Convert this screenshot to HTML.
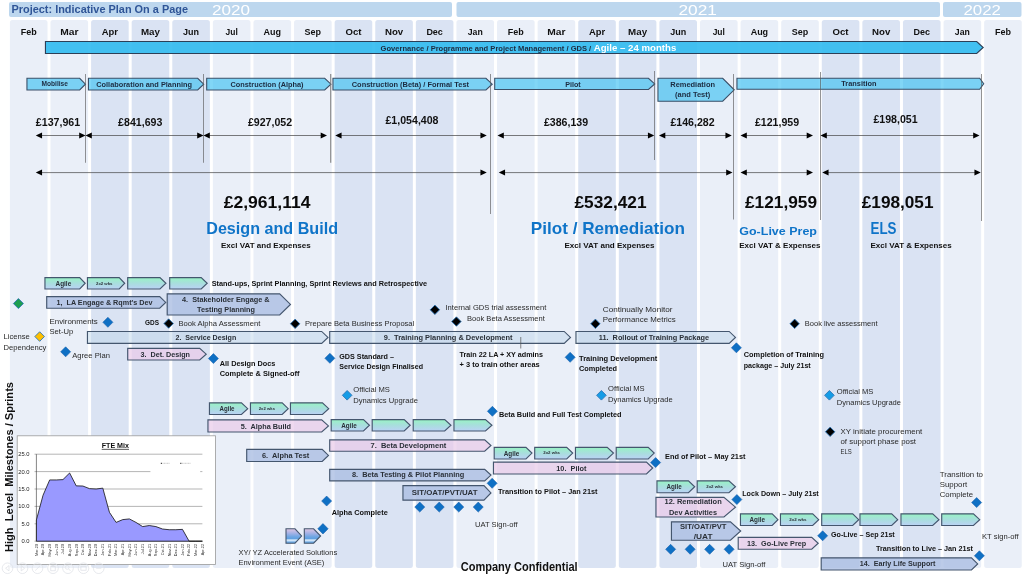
<!DOCTYPE html>
<html lang="en"><head><meta charset="utf-8"><title>Project: Indicative Plan On a Page</title>
<style>
html,body{margin:0;padding:0;background:#fff;}
body{width:1024px;height:576px;overflow:hidden;}
svg{display:block;font-family:"Liberation Sans", sans-serif;}
text{white-space:pre;}
</style></head>
<body>
<svg width="1024" height="576" viewBox="0 0 1024 576">
<defs><linearGradient id="gAse" x1="0" y1="0" x2="0" y2="1"><stop offset="0" stop-color="#dec6e2"/><stop offset="0.3" stop-color="#a6b2e6"/><stop offset="0.55" stop-color="#6fa6e3"/><stop offset="0.7" stop-color="#5f9fe0"/><stop offset="0.76" stop-color="#cfe4f8"/><stop offset="0.86" stop-color="#cfe4f8"/><stop offset="0.9" stop-color="#6aa8e4"/><stop offset="1" stop-color="#6aa8e4"/></linearGradient></defs>
<defs>
<linearGradient id="gAg" x1="0" y1="0" x2="0" y2="1"><stop offset="0" stop-color="#98f3c4"/><stop offset="0.5" stop-color="#a8dedd"/><stop offset="1" stop-color="#bbd2f5"/></linearGradient>
</defs>
<rect x="9.90" y="20" width="37.6" height="548" rx="2.5" fill="#eaeff8"/>
<rect x="50.49" y="20" width="37.6" height="548" rx="2.5" fill="#eaeff8"/>
<rect x="91.09" y="20" width="37.6" height="548" rx="2.5" fill="#dae3f3"/>
<rect x="131.68" y="20" width="37.6" height="548" rx="2.5" fill="#dae3f3"/>
<rect x="172.28" y="20" width="37.6" height="548" rx="2.5" fill="#dae3f3"/>
<rect x="212.87" y="20" width="37.6" height="548" rx="2.5" fill="#eaeff8"/>
<rect x="253.46" y="20" width="37.6" height="548" rx="2.5" fill="#eaeff8"/>
<rect x="294.06" y="20" width="37.6" height="548" rx="2.5" fill="#eaeff8"/>
<rect x="334.65" y="20" width="37.6" height="548" rx="2.5" fill="#dae3f3"/>
<rect x="375.25" y="20" width="37.6" height="548" rx="2.5" fill="#dae3f3"/>
<rect x="415.84" y="20" width="37.6" height="548" rx="2.5" fill="#dae3f3"/>
<rect x="456.43" y="20" width="37.6" height="548" rx="2.5" fill="#eaeff8"/>
<rect x="497.03" y="20" width="37.6" height="548" rx="2.5" fill="#eaeff8"/>
<rect x="537.62" y="20" width="37.6" height="548" rx="2.5" fill="#eaeff8"/>
<rect x="578.22" y="20" width="37.6" height="548" rx="2.5" fill="#dae3f3"/>
<rect x="618.81" y="20" width="37.6" height="548" rx="2.5" fill="#dae3f3"/>
<rect x="659.40" y="20" width="37.6" height="548" rx="2.5" fill="#dae3f3"/>
<rect x="700.00" y="20" width="37.6" height="548" rx="2.5" fill="#eaeff8"/>
<rect x="740.59" y="20" width="37.6" height="548" rx="2.5" fill="#eaeff8"/>
<rect x="781.19" y="20" width="37.6" height="548" rx="2.5" fill="#eaeff8"/>
<rect x="821.78" y="20" width="37.6" height="548" rx="2.5" fill="#dae3f3"/>
<rect x="862.37" y="20" width="37.6" height="548" rx="2.5" fill="#dae3f3"/>
<rect x="902.97" y="20" width="37.6" height="548" rx="2.5" fill="#dae3f3"/>
<rect x="943.56" y="20" width="37.6" height="548" rx="2.5" fill="#eaeff8"/>
<rect x="984.16" y="20" width="37.6" height="548" rx="2.5" fill="#eaeff8"/>
<rect x="9" y="2" width="443" height="15" rx="2" fill="#bdd7ee"/>
<rect x="456.5" y="2" width="483.5" height="15" rx="2" fill="#bdd7ee"/>
<rect x="943" y="2" width="78.5" height="15" rx="2" fill="#bdd7ee"/>
<text x="11.50" y="13.00" font-size="10.6" font-weight="bold" fill="#2f5597" textLength="176.50" lengthAdjust="spacingAndGlyphs">Project: Indicative Plan On a Page</text>
<text x="212.00" y="15.00" font-size="14.8" fill="#ffffff" textLength="38.00" lengthAdjust="spacingAndGlyphs">2020</text>
<text x="678.50" y="15.00" font-size="14.8" fill="#ffffff" textLength="38.50" lengthAdjust="spacingAndGlyphs">2021</text>
<text x="963.50" y="15.00" font-size="14.8" fill="#ffffff" textLength="37.50" lengthAdjust="spacingAndGlyphs">2022</text>
<text x="20.70" y="35.00" font-size="9.8" font-weight="bold" fill="#111" textLength="16.00" lengthAdjust="spacingAndGlyphs">Feb</text>
<text x="60.17" y="35.00" font-size="9.8" font-weight="bold" fill="#111" textLength="18.25" lengthAdjust="spacingAndGlyphs">Mar</text>
<text x="101.76" y="35.00" font-size="9.8" font-weight="bold" fill="#111" textLength="16.25" lengthAdjust="spacingAndGlyphs">Apr</text>
<text x="140.98" y="35.00" font-size="9.8" font-weight="bold" fill="#111" textLength="19.00" lengthAdjust="spacingAndGlyphs">May</text>
<text x="183.08" y="35.00" font-size="9.8" font-weight="bold" fill="#111" textLength="16.00" lengthAdjust="spacingAndGlyphs">Jun</text>
<text x="225.55" y="35.00" font-size="9.8" font-weight="bold" fill="#111" textLength="12.25" lengthAdjust="spacingAndGlyphs">Jul</text>
<text x="263.51" y="35.00" font-size="9.8" font-weight="bold" fill="#111" textLength="17.50" lengthAdjust="spacingAndGlyphs">Aug</text>
<text x="304.61" y="35.00" font-size="9.8" font-weight="bold" fill="#111" textLength="16.50" lengthAdjust="spacingAndGlyphs">Sep</text>
<text x="345.45" y="35.00" font-size="9.8" font-weight="bold" fill="#111" textLength="16.00" lengthAdjust="spacingAndGlyphs">Oct</text>
<text x="384.92" y="35.00" font-size="9.8" font-weight="bold" fill="#111" textLength="18.25" lengthAdjust="spacingAndGlyphs">Nov</text>
<text x="426.39" y="35.00" font-size="9.8" font-weight="bold" fill="#111" textLength="16.50" lengthAdjust="spacingAndGlyphs">Dec</text>
<text x="467.73" y="35.00" font-size="9.8" font-weight="bold" fill="#111" textLength="15.00" lengthAdjust="spacingAndGlyphs">Jan</text>
<text x="507.83" y="35.00" font-size="9.8" font-weight="bold" fill="#111" textLength="16.00" lengthAdjust="spacingAndGlyphs">Feb</text>
<text x="547.30" y="35.00" font-size="9.8" font-weight="bold" fill="#111" textLength="18.25" lengthAdjust="spacingAndGlyphs">Mar</text>
<text x="588.89" y="35.00" font-size="9.8" font-weight="bold" fill="#111" textLength="16.25" lengthAdjust="spacingAndGlyphs">Apr</text>
<text x="628.11" y="35.00" font-size="9.8" font-weight="bold" fill="#111" textLength="19.00" lengthAdjust="spacingAndGlyphs">May</text>
<text x="670.20" y="35.00" font-size="9.8" font-weight="bold" fill="#111" textLength="16.00" lengthAdjust="spacingAndGlyphs">Jun</text>
<text x="712.67" y="35.00" font-size="9.8" font-weight="bold" fill="#111" textLength="12.25" lengthAdjust="spacingAndGlyphs">Jul</text>
<text x="750.64" y="35.00" font-size="9.8" font-weight="bold" fill="#111" textLength="17.50" lengthAdjust="spacingAndGlyphs">Aug</text>
<text x="791.74" y="35.00" font-size="9.8" font-weight="bold" fill="#111" textLength="16.50" lengthAdjust="spacingAndGlyphs">Sep</text>
<text x="832.58" y="35.00" font-size="9.8" font-weight="bold" fill="#111" textLength="16.00" lengthAdjust="spacingAndGlyphs">Oct</text>
<text x="872.05" y="35.00" font-size="9.8" font-weight="bold" fill="#111" textLength="18.25" lengthAdjust="spacingAndGlyphs">Nov</text>
<text x="913.52" y="35.00" font-size="9.8" font-weight="bold" fill="#111" textLength="16.50" lengthAdjust="spacingAndGlyphs">Dec</text>
<text x="954.86" y="35.00" font-size="9.8" font-weight="bold" fill="#111" textLength="15.00" lengthAdjust="spacingAndGlyphs">Jan</text>
<text x="994.96" y="35.00" font-size="9.8" font-weight="bold" fill="#111" textLength="16.00" lengthAdjust="spacingAndGlyphs">Feb</text>
<path d="M45.45 41.50H976.70L983.20 47.48L976.70 53.45H45.45Z" fill="rgba(48,186,240,0.9)" stroke="#2c3f57" stroke-width="1.1" stroke-linejoin="miter"/>
<text x="380.60" y="51.00" font-size="6.7" font-weight="bold" fill="#1c2b40" textLength="210.65" lengthAdjust="spacingAndGlyphs">Governance / Programme and Project Management / GDS /</text>
<text x="593.75" y="51.00" font-size="9.8" font-weight="bold" fill="#ffffff" textLength="82.50" lengthAdjust="spacingAndGlyphs">Agile – 24 months</text>
<path d="M26.95 78.30H79.70L85.45 84.15L79.70 90.00H26.95Z" fill="rgba(70,195,242,0.68)" stroke="#3a4f68" stroke-width="1.1" stroke-linejoin="miter"/>
<path d="M88.45 78.30H197.70L203.70 84.15L197.70 90.00H88.45Z" fill="rgba(70,195,242,0.68)" stroke="#3a4f68" stroke-width="1.1" stroke-linejoin="miter"/>
<path d="M206.70 78.30H324.70L330.95 84.15L324.70 90.00H206.70Z" fill="rgba(70,195,242,0.68)" stroke="#3a4f68" stroke-width="1.1" stroke-linejoin="miter"/>
<path d="M332.95 78.30H485.95L492.20 84.15L485.95 90.00H332.95Z" fill="rgba(70,195,242,0.68)" stroke="#3a4f68" stroke-width="1.1" stroke-linejoin="miter"/>
<path d="M494.70 78.30H648.45L654.70 83.90L648.45 89.50H494.70Z" fill="rgba(70,195,242,0.68)" stroke="#3a4f68" stroke-width="1.1" stroke-linejoin="miter"/>
<path d="M657.95 78.30H722.70L734.20 89.78L722.70 101.25H657.95Z" fill="rgba(70,195,242,0.68)" stroke="#3a4f68" stroke-width="1.1" stroke-linejoin="miter"/>
<path d="M736.95 78.30H979.70L983.70 83.78L979.70 89.25H736.95Z" fill="rgba(70,195,242,0.68)" stroke="#3a4f68" stroke-width="1.1" stroke-linejoin="miter"/>
<text x="41.50" y="85.75" font-size="6.7" font-weight="bold" fill="#1c2b40" textLength="26.50" lengthAdjust="spacingAndGlyphs">Mobilise</text>
<text x="96.25" y="86.50" font-size="7.6" font-weight="bold" fill="#1c2b40" textLength="95.75" lengthAdjust="spacingAndGlyphs">Collaboration and Planning</text>
<text x="230.50" y="86.75" font-size="7.6" font-weight="bold" fill="#1c2b40" textLength="73.00" lengthAdjust="spacingAndGlyphs">Construction (Alpha)</text>
<text x="351.75" y="86.75" font-size="7.6" font-weight="bold" fill="#1c2b40" textLength="117.25" lengthAdjust="spacingAndGlyphs">Construction (Beta) / Formal Test</text>
<text x="565.25" y="86.50" font-size="7.6" font-weight="bold" fill="#1c2b40" textLength="15.50" lengthAdjust="spacingAndGlyphs">Pilot</text>
<text x="670.25" y="86.75" font-size="7.6" font-weight="bold" fill="#1c2b40" textLength="44.75" lengthAdjust="spacingAndGlyphs">Remediation</text>
<text x="675.00" y="97.00" font-size="7.6" font-weight="bold" fill="#1c2b40" textLength="35.25" lengthAdjust="spacingAndGlyphs">(and Test)</text>
<text x="841.25" y="86.00" font-size="7.6" font-weight="bold" fill="#1c2b40" textLength="35.25" lengthAdjust="spacingAndGlyphs">Transition</text>
<line x1="85.50" y1="74.00" x2="85.50" y2="162.75" stroke="#5a5a5a" stroke-width="0.65"/>
<line x1="203.50" y1="74.00" x2="203.50" y2="162.75" stroke="#5a5a5a" stroke-width="0.65"/>
<line x1="330.75" y1="74.00" x2="330.75" y2="162.75" stroke="#777" stroke-width="1.0"/>
<line x1="490.50" y1="74.00" x2="490.50" y2="214.00" stroke="#5a5a5a" stroke-width="0.65"/>
<line x1="654.50" y1="71.00" x2="654.50" y2="160.00" stroke="#5a5a5a" stroke-width="0.65"/>
<line x1="733.50" y1="74.00" x2="733.50" y2="219.50" stroke="#5a5a5a" stroke-width="0.65"/>
<line x1="820.50" y1="72.00" x2="820.50" y2="220.00" stroke="#5a5a5a" stroke-width="0.65"/>
<line x1="981.50" y1="74.00" x2="981.50" y2="221.00" stroke="#5a5a5a" stroke-width="0.65"/>
<text x="35.89" y="125.50" font-size="10.6" font-weight="bold" fill="#111" textLength="44.21" lengthAdjust="spacingAndGlyphs">£137,961</text>
<text x="118.14" y="125.50" font-size="10.6" font-weight="bold" fill="#111" textLength="44.21" lengthAdjust="spacingAndGlyphs">£841,693</text>
<text x="247.89" y="125.50" font-size="10.6" font-weight="bold" fill="#111" textLength="44.21" lengthAdjust="spacingAndGlyphs">£927,052</text>
<text x="385.47" y="123.50" font-size="10.6" font-weight="bold" fill="#111" textLength="53.05" lengthAdjust="spacingAndGlyphs">£1,054,408</text>
<text x="543.89" y="125.50" font-size="10.6" font-weight="bold" fill="#111" textLength="44.21" lengthAdjust="spacingAndGlyphs">£386,139</text>
<text x="670.39" y="125.50" font-size="10.6" font-weight="bold" fill="#111" textLength="44.21" lengthAdjust="spacingAndGlyphs">£146,282</text>
<text x="754.89" y="125.50" font-size="10.6" font-weight="bold" fill="#111" textLength="44.21" lengthAdjust="spacingAndGlyphs">£121,959</text>
<text x="873.39" y="122.50" font-size="10.6" font-weight="bold" fill="#111" textLength="44.21" lengthAdjust="spacingAndGlyphs">£198,051</text>
<line x1="41.05" y1="135.50" x2="80.20" y2="135.50" stroke="#444" stroke-width="0.7"/>
<path d="M35.75 135.50L42.05 132.50V138.50Z" fill="#000"/>
<path d="M85.50 135.50L79.20 132.50V138.50Z" fill="#000"/>
<line x1="90.80" y1="135.50" x2="198.20" y2="135.50" stroke="#444" stroke-width="0.7"/>
<path d="M85.50 135.50L91.80 132.50V138.50Z" fill="#000"/>
<path d="M203.50 135.50L197.20 132.50V138.50Z" fill="#000"/>
<line x1="208.80" y1="135.50" x2="321.70" y2="135.50" stroke="#444" stroke-width="0.7"/>
<path d="M203.50 135.50L209.80 132.50V138.50Z" fill="#000"/>
<path d="M327.00 135.50L320.70 132.50V138.50Z" fill="#000"/>
<line x1="340.55" y1="135.50" x2="481.45" y2="135.50" stroke="#444" stroke-width="0.7"/>
<path d="M335.25 135.50L341.55 132.50V138.50Z" fill="#000"/>
<path d="M486.75 135.50L480.45 132.50V138.50Z" fill="#000"/>
<line x1="502.80" y1="135.50" x2="648.95" y2="135.50" stroke="#444" stroke-width="0.7"/>
<path d="M497.50 135.50L503.80 132.50V138.50Z" fill="#000"/>
<path d="M654.25 135.50L647.95 132.50V138.50Z" fill="#000"/>
<line x1="664.30" y1="135.50" x2="726.45" y2="135.50" stroke="#444" stroke-width="0.7"/>
<path d="M659.00 135.50L665.30 132.50V138.50Z" fill="#000"/>
<path d="M731.75 135.50L725.45 132.50V138.50Z" fill="#000"/>
<line x1="745.80" y1="135.50" x2="807.70" y2="135.50" stroke="#444" stroke-width="0.7"/>
<path d="M740.50 135.50L746.80 132.50V138.50Z" fill="#000"/>
<path d="M813.00 135.50L806.70 132.50V138.50Z" fill="#000"/>
<line x1="825.80" y1="135.50" x2="974.20" y2="135.50" stroke="#444" stroke-width="0.7"/>
<path d="M820.50 135.50L826.80 132.50V138.50Z" fill="#000"/>
<path d="M979.50 135.50L973.20 132.50V138.50Z" fill="#000"/>
<line x1="41.05" y1="172.60" x2="481.45" y2="172.60" stroke="#444" stroke-width="0.7"/>
<path d="M35.75 172.60L42.05 169.60V175.60Z" fill="#000"/>
<path d="M486.75 172.60L480.45 169.60V175.60Z" fill="#000"/>
<line x1="504.05" y1="172.60" x2="727.20" y2="172.60" stroke="#444" stroke-width="0.7"/>
<path d="M498.75 172.60L505.05 169.60V175.60Z" fill="#000"/>
<path d="M732.50 172.60L726.20 169.60V175.60Z" fill="#000"/>
<line x1="745.80" y1="172.60" x2="807.70" y2="172.60" stroke="#444" stroke-width="0.7"/>
<path d="M740.50 172.60L746.80 169.60V175.60Z" fill="#000"/>
<path d="M813.00 172.60L806.70 169.60V175.60Z" fill="#000"/>
<line x1="827.55" y1="172.60" x2="975.45" y2="172.60" stroke="#444" stroke-width="0.7"/>
<path d="M822.25 172.60L828.55 169.60V175.60Z" fill="#000"/>
<path d="M980.75 172.60L974.45 169.60V175.60Z" fill="#000"/>
<text x="223.75" y="208.00" font-size="17" font-weight="bold" fill="#0a0a0a" textLength="86.75" lengthAdjust="spacingAndGlyphs">£2,961,114</text>
<text x="206.25" y="233.50" font-size="17" font-weight="bold" fill="#0f74c8" textLength="131.75" lengthAdjust="spacingAndGlyphs">Design and Build</text>
<text x="221.00" y="247.60" font-size="8.0" font-weight="bold" fill="#111" textLength="89.75" lengthAdjust="spacingAndGlyphs">Excl VAT and Expenses</text>
<text x="574.50" y="207.60" font-size="17" font-weight="bold" fill="#0a0a0a" textLength="72.00" lengthAdjust="spacingAndGlyphs">£532,421</text>
<text x="530.75" y="233.75" font-size="17" font-weight="bold" fill="#0f74c8" textLength="154.25" lengthAdjust="spacingAndGlyphs">Pilot / Remediation</text>
<text x="564.50" y="247.75" font-size="8.0" font-weight="bold" fill="#111" textLength="90.00" lengthAdjust="spacingAndGlyphs">Excl VAT and Expenses</text>
<text x="745.00" y="207.60" font-size="17" font-weight="bold" fill="#0a0a0a" textLength="72.00" lengthAdjust="spacingAndGlyphs">£121,959</text>
<text x="739.25" y="234.75" font-size="11.8" font-weight="bold" fill="#0f74c8" textLength="77.75" lengthAdjust="spacingAndGlyphs">Go-Live Prep</text>
<text x="739.25" y="247.75" font-size="8.0" font-weight="bold" fill="#111" textLength="81.25" lengthAdjust="spacingAndGlyphs">Excl VAT &amp; Expenses</text>
<text x="861.75" y="207.60" font-size="17" font-weight="bold" fill="#0a0a0a" textLength="71.75" lengthAdjust="spacingAndGlyphs">£198,051</text>
<text x="870.50" y="233.50" font-size="17" font-weight="bold" fill="#0f74c8" textLength="26.00" lengthAdjust="spacingAndGlyphs">ELS</text>
<text x="870.50" y="247.75" font-size="8.0" font-weight="bold" fill="#111" textLength="81.25" lengthAdjust="spacingAndGlyphs">Excl VAT &amp; Expenses</text>
<path d="M44.95 277.55H79.70L85.20 283.27L79.70 289.00H44.95Z" fill="url(#gAg)" stroke="#44566e" stroke-width="1.15" stroke-linejoin="miter"/>
<text x="55.50" y="285.65" font-size="7.0" font-weight="bold" fill="#2a3038" textLength="15.75" lengthAdjust="spacingAndGlyphs">Agile</text>
<path d="M87.45 277.55H119.20L124.70 283.27L119.20 289.00H87.45Z" fill="url(#gAg)" stroke="#44566e" stroke-width="1.15" stroke-linejoin="miter"/>
<text x="96.00" y="284.55" font-size="4.0" font-weight="bold" fill="#2a3038" textLength="16.50" lengthAdjust="spacingAndGlyphs">2x2 wks</text>
<path d="M127.70 277.55H159.95L165.95 283.27L159.95 289.00H127.70Z" fill="url(#gAg)" stroke="#44566e" stroke-width="1.15" stroke-linejoin="miter"/>
<path d="M169.70 277.55H201.20L207.20 283.27L201.20 289.00H169.70Z" fill="url(#gAg)" stroke="#44566e" stroke-width="1.15" stroke-linejoin="miter"/>
<text x="211.75" y="285.50" font-size="7.7" font-weight="bold" fill="#111" textLength="215.25" lengthAdjust="spacingAndGlyphs">Stand-ups, Sprint Planning, Sprint Reviews and Retrospective</text>
<path d="M18.40 298.55L23.40 303.55L18.40 308.55L13.40 303.55Z" fill="#1e9e50" stroke="#2e75b6" stroke-width="0.9"/>
<path d="M46.70 296.55H159.70L165.70 302.40L159.70 308.25H46.70Z" fill="rgba(171,190,226,0.8)" stroke="#44566e" stroke-width="1.15" stroke-linejoin="miter"/>
<text x="56.50" y="304.75" font-size="7.7" font-weight="bold" fill="#2a3038" textLength="96.00" lengthAdjust="spacingAndGlyphs">1,  LA Engage &amp; Rqmt's Dev</text>
<path d="M167.20 293.80H279.70L290.45 304.40L279.70 315.00H167.20Z" fill="rgba(171,190,226,0.8)" stroke="#44566e" stroke-width="1.15" stroke-linejoin="miter"/>
<text x="182.00" y="301.75" font-size="7.7" font-weight="bold" fill="#2a3038" textLength="87.50" lengthAdjust="spacingAndGlyphs">4.  Stakeholder Engage &amp;</text>
<text x="197.00" y="311.75" font-size="7.7" font-weight="bold" fill="#2a3038" textLength="58.00" lengthAdjust="spacingAndGlyphs">Testing Planning</text>
<text x="49.50" y="324.00" font-size="7.9" fill="#2a2a2a" textLength="48.25" lengthAdjust="spacingAndGlyphs">Environments</text>
<text x="49.50" y="334.20" font-size="7.9" fill="#2a2a2a" textLength="23.73" lengthAdjust="spacingAndGlyphs">Set-Up</text>
<path d="M107.90 317.30L112.90 322.30L107.90 327.30L102.90 322.30Z" fill="#0f70c4" stroke="#1a62ad" stroke-width="0.6"/>
<text x="145.00" y="324.75" font-size="7.7" font-weight="bold" fill="#111" textLength="14.00" lengthAdjust="spacingAndGlyphs">GDS</text>
<path d="M168.65 318.85L173.35 323.55L168.65 328.25L163.95 323.55Z" fill="#000" stroke="#2e75b6" stroke-width="0.9"/>
<text x="178.50" y="325.60" font-size="7.9" fill="#2a2a2a" textLength="81.75" lengthAdjust="spacingAndGlyphs">Book Alpha Assessment</text>
<path d="M295.15 319.10L299.85 323.80L295.15 328.50L290.45 323.80Z" fill="#000" stroke="#2e75b6" stroke-width="0.9"/>
<text x="305.00" y="325.75" font-size="7.9" fill="#2a2a2a" textLength="109.25" lengthAdjust="spacingAndGlyphs">Prepare Beta Business Proposal</text>
<text x="3.50" y="339.00" font-size="7.9" fill="#2a2a2a" textLength="26.27" lengthAdjust="spacingAndGlyphs">License</text>
<text x="3.50" y="349.50" font-size="7.9" fill="#2a2a2a" textLength="42.81" lengthAdjust="spacingAndGlyphs">Dependency</text>
<path d="M39.65 331.75L44.45 336.55L39.65 341.35L34.85 336.55Z" fill="#ffc000" stroke="#2e75b6" stroke-width="0.9"/>
<path d="M87.45 331.45H321.70L327.95 337.38L321.70 343.30H87.45Z" fill="rgba(190,213,233,0.5)" stroke="#44566e" stroke-width="1.15" stroke-linejoin="miter"/>
<text x="175.50" y="339.75" font-size="7.7" font-weight="bold" fill="#2a3038" textLength="60.75" lengthAdjust="spacingAndGlyphs">2.  Service Design</text>
<path d="M329.70 331.45H564.20L570.45 337.38L564.20 343.30H329.70Z" fill="rgba(190,213,233,0.5)" stroke="#44566e" stroke-width="1.15" stroke-linejoin="miter"/>
<text x="383.75" y="339.75" font-size="7.7" font-weight="bold" fill="#2a3038" textLength="128.75" lengthAdjust="spacingAndGlyphs">9.  Training Planning &amp; Development</text>
<path d="M575.95 331.45H729.20L735.45 337.38L729.20 343.30H575.95Z" fill="rgba(190,213,233,0.5)" stroke="#44566e" stroke-width="1.15" stroke-linejoin="miter"/>
<text x="598.75" y="339.75" font-size="7.7" font-weight="bold" fill="#2a3038" textLength="110.25" lengthAdjust="spacingAndGlyphs">11.  Rollout of Training Package</text>
<path d="M65.65 346.80L70.65 351.80L65.65 356.80L60.65 351.80Z" fill="#0f70c4" stroke="#1a62ad" stroke-width="0.6"/>
<text x="72.25" y="358.25" font-size="7.9" fill="#2a2a2a" textLength="37.72" lengthAdjust="spacingAndGlyphs">Agree Plan</text>
<path d="M127.70 348.30H199.70L206.20 354.15L199.70 360.00H127.70Z" fill="rgba(233,203,233,0.72)" stroke="#44566e" stroke-width="1.15" stroke-linejoin="miter"/>
<text x="140.50" y="356.50" font-size="7.7" font-weight="bold" fill="#2a3038" textLength="49.50" lengthAdjust="spacingAndGlyphs">3.  Det. Design</text>
<path d="M213.40 353.55L218.40 358.55L213.40 363.55L208.40 358.55Z" fill="#0f70c4" stroke="#1a62ad" stroke-width="0.6"/>
<text x="219.75" y="366.20" font-size="7.7" font-weight="bold" fill="#111" textLength="55.69" lengthAdjust="spacingAndGlyphs">All Design Docs</text>
<text x="219.75" y="376.40" font-size="7.7" font-weight="bold" fill="#111" textLength="79.75" lengthAdjust="spacingAndGlyphs">Complete &amp; Signed-off</text>
<path d="M329.90 353.30L334.90 358.30L329.90 363.30L324.90 358.30Z" fill="#0f70c4" stroke="#1a62ad" stroke-width="0.6"/>
<text x="339.25" y="358.80" font-size="7.7" font-weight="bold" fill="#111" textLength="54.75" lengthAdjust="spacingAndGlyphs">GDS Standard –</text>
<text x="339.25" y="369.00" font-size="7.7" font-weight="bold" fill="#111" textLength="83.75" lengthAdjust="spacingAndGlyphs">Service Design Finalised</text>
<path d="M434.90 305.10L439.60 309.80L434.90 314.50L430.20 309.80Z" fill="#000" stroke="#2e75b6" stroke-width="0.9"/>
<text x="445.50" y="309.75" font-size="7.9" fill="#2a2a2a" textLength="100.75" lengthAdjust="spacingAndGlyphs">Internal GDS trial assessment</text>
<path d="M456.40 316.85L461.10 321.55L456.40 326.25L451.70 321.55Z" fill="#000" stroke="#2e75b6" stroke-width="0.9"/>
<text x="467.00" y="321.00" font-size="7.9" fill="#2a2a2a" textLength="77.75" lengthAdjust="spacingAndGlyphs">Book Beta Assessment</text>
<line x1="520.75" y1="337.00" x2="520.75" y2="348.50" stroke="#555" stroke-width="0.7"/>
<text x="459.50" y="356.75" font-size="7.7" font-weight="bold" fill="#111" textLength="83.50" lengthAdjust="spacingAndGlyphs">Train 22 LA + XY admins</text>
<text x="459.50" y="367.10" font-size="7.7" font-weight="bold" fill="#111" textLength="80.25" lengthAdjust="spacingAndGlyphs">+ 3 to train other areas</text>
<path d="M570.15 352.30L575.15 357.30L570.15 362.30L565.15 357.30Z" fill="#0f70c4" stroke="#1a62ad" stroke-width="0.6"/>
<text x="579.00" y="360.75" font-size="7.7" font-weight="bold" fill="#111" textLength="78.25" lengthAdjust="spacingAndGlyphs">Training Development</text>
<text x="579.00" y="371.00" font-size="7.7" font-weight="bold" fill="#111" textLength="38.00" lengthAdjust="spacingAndGlyphs">Completed</text>
<text x="602.75" y="311.50" font-size="7.9" fill="#2a2a2a" textLength="69.75" lengthAdjust="spacingAndGlyphs">Continually Monitor</text>
<text x="602.75" y="321.75" font-size="7.9" fill="#2a2a2a" textLength="73.00" lengthAdjust="spacingAndGlyphs">Performance Metrics</text>
<path d="M595.40 319.10L600.10 323.80L595.40 328.50L590.70 323.80Z" fill="#000" stroke="#2e75b6" stroke-width="0.9"/>
<path d="M736.40 342.80L741.40 347.80L736.40 352.80L731.40 347.80Z" fill="#0f70c4" stroke="#1a62ad" stroke-width="0.6"/>
<text x="743.75" y="357.00" font-size="7.7" font-weight="bold" fill="#111" textLength="80.25" lengthAdjust="spacingAndGlyphs">Completion of Training</text>
<text x="743.75" y="367.50" font-size="7.7" font-weight="bold" fill="#111" textLength="67.00" lengthAdjust="spacingAndGlyphs">package – July 21st</text>
<path d="M794.65 319.10L799.35 323.80L794.65 328.50L789.95 323.80Z" fill="#000" stroke="#2e75b6" stroke-width="0.9"/>
<text x="804.75" y="325.75" font-size="7.9" fill="#2a2a2a" textLength="72.75" lengthAdjust="spacingAndGlyphs">Book live assessment</text>
<path d="M347.15 390.50L351.95 395.30L347.15 400.10L342.35 395.30Z" fill="#159ce6" stroke="#2e75b6" stroke-width="0.9"/>
<text x="353.25" y="392.25" font-size="7.9" fill="#2a2a2a" textLength="36.71" lengthAdjust="spacingAndGlyphs">Official MS</text>
<text x="353.25" y="403.00" font-size="7.9" fill="#2a2a2a" textLength="64.75" lengthAdjust="spacingAndGlyphs">Dynamics Upgrade</text>
<path d="M601.40 390.50L606.20 395.30L601.40 400.10L596.60 395.30Z" fill="#159ce6" stroke="#2e75b6" stroke-width="0.9"/>
<text x="608.00" y="391.00" font-size="7.9" fill="#2a2a2a" textLength="36.71" lengthAdjust="spacingAndGlyphs">Official MS</text>
<text x="608.00" y="401.75" font-size="7.9" fill="#2a2a2a" textLength="64.75" lengthAdjust="spacingAndGlyphs">Dynamics Upgrade</text>
<path d="M829.40 390.50L834.20 395.30L829.40 400.10L824.60 395.30Z" fill="#159ce6" stroke="#2e75b6" stroke-width="0.9"/>
<text x="836.75" y="393.75" font-size="7.9" fill="#2a2a2a" textLength="36.71" lengthAdjust="spacingAndGlyphs">Official MS</text>
<text x="836.75" y="404.50" font-size="7.9" fill="#2a2a2a" textLength="64.25" lengthAdjust="spacingAndGlyphs">Dynamics Upgrade</text>
<path d="M830.15 427.10L834.85 431.80L830.15 436.50L825.45 431.80Z" fill="#000" stroke="#2e75b6" stroke-width="0.9"/>
<text x="840.50" y="433.50" font-size="7.9" fill="#2a2a2a" textLength="81.75" lengthAdjust="spacingAndGlyphs">XY initiate procurement</text>
<text x="840.50" y="443.75" font-size="7.9" fill="#2a2a2a" textLength="75.50" lengthAdjust="spacingAndGlyphs">of support phase post</text>
<text x="840.50" y="454.00" font-size="7.9" fill="#2a2a2a" textLength="11.25" lengthAdjust="spacingAndGlyphs">ELS</text>
<path d="M209.45 402.80H241.45L247.70 408.65L241.45 414.50H209.45Z" fill="url(#gAg)" stroke="#44566e" stroke-width="1.15" stroke-linejoin="miter"/>
<text x="219.50" y="411.02" font-size="7.0" font-weight="bold" fill="#2a3038" textLength="15.00" lengthAdjust="spacingAndGlyphs">Agile</text>
<path d="M250.45 402.80H282.20L288.20 408.65L282.20 414.50H250.45Z" fill="url(#gAg)" stroke="#44566e" stroke-width="1.15" stroke-linejoin="miter"/>
<text x="258.75" y="409.93" font-size="4.0" font-weight="bold" fill="#2a3038" textLength="16.25" lengthAdjust="spacingAndGlyphs">2x2 wks</text>
<path d="M290.45 402.80H322.45L328.70 408.65L322.45 414.50H290.45Z" fill="url(#gAg)" stroke="#44566e" stroke-width="1.15" stroke-linejoin="miter"/>
<path d="M207.95 419.80H321.70L328.45 425.90L321.70 432.00H207.95Z" fill="rgba(233,203,233,0.72)" stroke="#44566e" stroke-width="1.15" stroke-linejoin="miter"/>
<text x="240.75" y="428.50" font-size="7.7" font-weight="bold" fill="#2a3038" textLength="50.25" lengthAdjust="spacingAndGlyphs">5.  Alpha Build</text>
<path d="M331.20 419.55H363.45L369.45 425.27L363.45 431.00H331.20Z" fill="url(#gAg)" stroke="#44566e" stroke-width="1.15" stroke-linejoin="miter"/>
<text x="341.25" y="427.65" font-size="7.0" font-weight="bold" fill="#2a3038" textLength="15.50" lengthAdjust="spacingAndGlyphs">Agile</text>
<path d="M372.20 419.55H404.20L410.20 425.27L404.20 431.00H372.20Z" fill="url(#gAg)" stroke="#44566e" stroke-width="1.15" stroke-linejoin="miter"/>
<path d="M413.20 419.55H444.70L450.95 425.27L444.70 431.00H413.20Z" fill="url(#gAg)" stroke="#44566e" stroke-width="1.15" stroke-linejoin="miter"/>
<path d="M453.95 419.55H485.45L491.95 425.27L485.45 431.00H453.95Z" fill="url(#gAg)" stroke="#44566e" stroke-width="1.15" stroke-linejoin="miter"/>
<path d="M492.40 406.30L497.40 411.30L492.40 416.30L487.40 411.30Z" fill="#0f70c4" stroke="#1a62ad" stroke-width="0.6"/>
<text x="499.00" y="417.00" font-size="7.7" font-weight="bold" fill="#111" textLength="122.50" lengthAdjust="spacingAndGlyphs">Beta Build and Full Test Completed</text>
<path d="M329.70 439.80H484.70L490.95 445.52L484.70 451.25H329.70Z" fill="rgba(233,203,233,0.72)" stroke="#44566e" stroke-width="1.15" stroke-linejoin="miter"/>
<text x="370.50" y="447.50" font-size="7.7" font-weight="bold" fill="#2a3038" textLength="75.75" lengthAdjust="spacingAndGlyphs">7.  Beta Development</text>
<path d="M246.70 449.30H322.20L328.45 455.40L322.20 461.50H246.70Z" fill="rgba(171,190,226,0.8)" stroke="#44566e" stroke-width="1.15" stroke-linejoin="miter"/>
<text x="262.00" y="458.00" font-size="7.7" font-weight="bold" fill="#2a3038" textLength="47.25" lengthAdjust="spacingAndGlyphs">6.  Alpha Test</text>
<path d="M329.70 469.30H484.70L490.95 475.08L484.70 480.85H329.70Z" fill="rgba(171,190,226,0.8)" stroke="#44566e" stroke-width="1.15" stroke-linejoin="miter"/>
<text x="352.00" y="477.00" font-size="7.7" font-weight="bold" fill="#2a3038" textLength="112.25" lengthAdjust="spacingAndGlyphs">8.  Beta Testing &amp; Pilot Planning</text>
<path d="M402.95 485.60H483.95L490.95 492.88L483.95 500.15H402.95Z" fill="rgba(171,190,226,0.8)" stroke="#44566e" stroke-width="1.15" stroke-linejoin="miter"/>
<text x="411.75" y="495.25" font-size="8.0" font-weight="bold" fill="#2a3038" textLength="65.75" lengthAdjust="spacingAndGlyphs">SIT/OAT/PVT/UAT</text>
<path d="M419.75 502.05L424.75 507.05L419.75 512.05L414.75 507.05Z" fill="#0f70c4" stroke="#1a62ad" stroke-width="0.6"/>
<path d="M439.25 502.05L444.25 507.05L439.25 512.05L434.25 507.05Z" fill="#0f70c4" stroke="#1a62ad" stroke-width="0.6"/>
<path d="M458.75 502.05L463.75 507.05L458.75 512.05L453.75 507.05Z" fill="#0f70c4" stroke="#1a62ad" stroke-width="0.6"/>
<path d="M478.25 502.05L483.25 507.05L478.25 512.05L473.25 507.05Z" fill="#0f70c4" stroke="#1a62ad" stroke-width="0.6"/>
<text x="475.00" y="527.00" font-size="7.9" fill="#2a2a2a" textLength="42.50" lengthAdjust="spacingAndGlyphs">UAT Sign-off</text>
<path d="M492.15 478.30L497.15 483.30L492.15 488.30L487.15 483.30Z" fill="#0f70c4" stroke="#1a62ad" stroke-width="0.6"/>
<text x="498.00" y="493.50" font-size="7.7" font-weight="bold" fill="#111" textLength="99.50" lengthAdjust="spacingAndGlyphs">Transition to Pilot – Jan 21st</text>
<path d="M326.65 496.05L331.65 501.05L326.65 506.05L321.65 501.05Z" fill="#0f70c4" stroke="#1a62ad" stroke-width="0.6"/>
<text x="331.75" y="514.75" font-size="7.7" font-weight="bold" fill="#111" textLength="56.00" lengthAdjust="spacingAndGlyphs">Alpha Complete</text>
<path d="M494.20 447.30H525.95L531.95 453.12L525.95 458.95H494.20Z" fill="url(#gAg)" stroke="#44566e" stroke-width="1.15" stroke-linejoin="miter"/>
<text x="503.75" y="455.50" font-size="7.0" font-weight="bold" fill="#2a3038" textLength="15.50" lengthAdjust="spacingAndGlyphs">Agile</text>
<path d="M534.70 447.30H566.70L572.70 453.12L566.70 458.95H534.70Z" fill="url(#gAg)" stroke="#44566e" stroke-width="1.15" stroke-linejoin="miter"/>
<text x="543.25" y="454.40" font-size="4.0" font-weight="bold" fill="#2a3038" textLength="16.75" lengthAdjust="spacingAndGlyphs">2x2 wks</text>
<path d="M575.45 447.30H607.20L613.45 453.12L607.20 458.95H575.45Z" fill="url(#gAg)" stroke="#44566e" stroke-width="1.15" stroke-linejoin="miter"/>
<path d="M616.20 447.30H648.20L654.20 453.12L648.20 458.95H616.20Z" fill="url(#gAg)" stroke="#44566e" stroke-width="1.15" stroke-linejoin="miter"/>
<path d="M493.45 462.05H646.45L652.70 468.02L646.45 474.00H493.45Z" fill="rgba(233,203,233,0.72)" stroke="#44566e" stroke-width="1.15" stroke-linejoin="miter"/>
<text x="556.25" y="470.50" font-size="7.7" font-weight="bold" fill="#2a3038" textLength="30.25" lengthAdjust="spacingAndGlyphs">10.  Pilot</text>
<path d="M655.65 457.55L660.65 462.55L655.65 467.55L650.65 462.55Z" fill="#0f70c4" stroke="#1a62ad" stroke-width="0.6"/>
<text x="665.00" y="459.00" font-size="7.7" font-weight="bold" fill="#111" textLength="80.50" lengthAdjust="spacingAndGlyphs">End of Pilot – May 21st</text>
<path d="M656.95 480.80H688.45L694.70 486.77L688.45 492.75H656.95Z" fill="url(#gAg)" stroke="#44566e" stroke-width="1.15" stroke-linejoin="miter"/>
<text x="666.50" y="489.15" font-size="7.0" font-weight="bold" fill="#2a3038" textLength="15.25" lengthAdjust="spacingAndGlyphs">Agile</text>
<path d="M697.20 480.80H728.95L735.45 486.77L728.95 492.75H697.20Z" fill="url(#gAg)" stroke="#44566e" stroke-width="1.15" stroke-linejoin="miter"/>
<text x="706.25" y="488.05" font-size="4.0" font-weight="bold" fill="#2a3038" textLength="16.75" lengthAdjust="spacingAndGlyphs">2x2 wks</text>
<path d="M655.95 497.30H723.95L735.45 507.15L723.95 517.00H655.95Z" fill="rgba(233,203,233,0.72)" stroke="#44566e" stroke-width="1.15" stroke-linejoin="miter"/>
<text x="664.50" y="504.00" font-size="7.7" font-weight="bold" fill="#2a3038" textLength="57.25" lengthAdjust="spacingAndGlyphs">12. Remediation</text>
<text x="669.00" y="514.50" font-size="7.7" font-weight="bold" fill="#2a3038" textLength="48.00" lengthAdjust="spacingAndGlyphs">Dev Activities</text>
<path d="M736.90 494.55L741.90 499.55L736.90 504.55L731.90 499.55Z" fill="#0f70c4" stroke="#1a62ad" stroke-width="0.6"/>
<text x="742.25" y="495.75" font-size="7.7" font-weight="bold" fill="#111" textLength="76.50" lengthAdjust="spacingAndGlyphs">Lock Down – July 21st</text>
<path d="M671.45 521.80H730.45L740.70 531.02L730.45 540.25H671.45Z" fill="rgba(171,190,226,0.8)" stroke="#44566e" stroke-width="1.15" stroke-linejoin="miter"/>
<text x="680.00" y="529.00" font-size="8.0" font-weight="bold" fill="#2a3038" textLength="46.50" lengthAdjust="spacingAndGlyphs">SIT/OAT/PVT</text>
<text x="693.75" y="539.00" font-size="8.0" font-weight="bold" fill="#2a3038" textLength="18.75" lengthAdjust="spacingAndGlyphs">/UAT</text>
<path d="M670.65 544.30L675.65 549.30L670.65 554.30L665.65 549.30Z" fill="#0f70c4" stroke="#1a62ad" stroke-width="0.6"/>
<path d="M690.15 544.30L695.15 549.30L690.15 554.30L685.15 549.30Z" fill="#0f70c4" stroke="#1a62ad" stroke-width="0.6"/>
<path d="M709.65 544.30L714.65 549.30L709.65 554.30L704.65 549.30Z" fill="#0f70c4" stroke="#1a62ad" stroke-width="0.6"/>
<path d="M729.15 544.30L734.15 549.30L729.15 554.30L724.15 549.30Z" fill="#0f70c4" stroke="#1a62ad" stroke-width="0.6"/>
<text x="722.50" y="567.25" font-size="7.9" fill="#2a2a2a" textLength="42.75" lengthAdjust="spacingAndGlyphs">UAT Sign-off</text>
<path d="M740.45 513.80H772.20L777.95 519.65L772.20 525.50H740.45Z" fill="url(#gAg)" stroke="#44566e" stroke-width="1.15" stroke-linejoin="miter"/>
<text x="749.50" y="522.02" font-size="7.0" font-weight="bold" fill="#2a3038" textLength="15.50" lengthAdjust="spacingAndGlyphs">Agile</text>
<path d="M780.45 513.80H812.70L818.70 519.65L812.70 525.50H780.45Z" fill="url(#gAg)" stroke="#44566e" stroke-width="1.15" stroke-linejoin="miter"/>
<text x="789.25" y="520.92" font-size="4.0" font-weight="bold" fill="#2a3038" textLength="17.25" lengthAdjust="spacingAndGlyphs">2x2 wks</text>
<path d="M821.70 513.80H852.70L858.70 519.65L852.70 525.50H821.70Z" fill="url(#gAg)" stroke="#44566e" stroke-width="1.15" stroke-linejoin="miter"/>
<path d="M859.95 513.80H891.70L897.70 519.65L891.70 525.50H859.95Z" fill="url(#gAg)" stroke="#44566e" stroke-width="1.15" stroke-linejoin="miter"/>
<path d="M900.95 513.80H932.70L938.95 519.65L932.70 525.50H900.95Z" fill="url(#gAg)" stroke="#44566e" stroke-width="1.15" stroke-linejoin="miter"/>
<path d="M941.70 513.80H973.45L979.70 519.65L973.45 525.50H941.70Z" fill="url(#gAg)" stroke="#44566e" stroke-width="1.15" stroke-linejoin="miter"/>
<path d="M738.20 537.30H811.70L818.20 543.27L811.70 549.25H738.20Z" fill="rgba(233,203,233,0.72)" stroke="#44566e" stroke-width="1.15" stroke-linejoin="miter"/>
<text x="747.00" y="546.00" font-size="7.7" font-weight="bold" fill="#2a3038" textLength="59.25" lengthAdjust="spacingAndGlyphs">13.  Go-Live Prep</text>
<path d="M822.65 530.80L827.65 535.80L822.65 540.80L817.65 535.80Z" fill="#0f70c4" stroke="#1a62ad" stroke-width="0.6"/>
<text x="831.00" y="536.50" font-size="7.7" font-weight="bold" fill="#111" textLength="63.75" lengthAdjust="spacingAndGlyphs">Go-Live – Sep 21st</text>
<text x="876.00" y="551.00" font-size="7.7" font-weight="bold" fill="#111" textLength="97.00" lengthAdjust="spacingAndGlyphs">Transition to Live – Jan 21st</text>
<path d="M979.40 550.80L984.40 555.80L979.40 560.80L974.40 555.80Z" fill="#0f70c4" stroke="#1a62ad" stroke-width="0.6"/>
<text x="982.00" y="539.00" font-size="7.9" fill="#2a2a2a" textLength="36.50" lengthAdjust="spacingAndGlyphs">KT sign-off</text>
<text x="939.75" y="476.50" font-size="7.9" fill="#2a2a2a" textLength="43.25" lengthAdjust="spacingAndGlyphs">Transition to</text>
<text x="939.75" y="487.00" font-size="7.9" fill="#2a2a2a" textLength="27.50" lengthAdjust="spacingAndGlyphs">Support</text>
<text x="939.75" y="497.00" font-size="7.9" fill="#2a2a2a" textLength="33.25" lengthAdjust="spacingAndGlyphs">Complete</text>
<path d="M976.65 497.55L981.65 502.55L976.65 507.55L971.65 502.55Z" fill="#0f70c4" stroke="#1a62ad" stroke-width="0.6"/>
<path d="M821.20 557.80H971.45L977.70 563.90L971.45 570.00H821.20Z" fill="rgba(171,190,226,0.8)" stroke="#44566e" stroke-width="1.15" stroke-linejoin="miter"/>
<text x="859.75" y="565.75" font-size="7.7" font-weight="bold" fill="#2a3038" textLength="75.75" lengthAdjust="spacingAndGlyphs">14.  Early Life Support</text>
<path d="M322.95 523.60L328.15 528.80L322.95 534.00L317.75 528.80Z" fill="#0f70c4" stroke="#1a62ad" stroke-width="0.6"/>
<path d="M286 528.8H295L301.6 536L295 543.2H286Z" fill="url(#gAse)" stroke="#44566e" stroke-width="1.1"/>
<path d="M304.3 528.8H313.6L320.6 536L313.6 543.2H304.3Z" fill="url(#gAse)" stroke="#44566e" stroke-width="1.1"/>
<text x="238.40" y="554.50" font-size="7.9" fill="#2a2a2a" textLength="98.80" lengthAdjust="spacingAndGlyphs">XY/ YZ Accelerated Solutions</text>
<text x="238.40" y="564.50" font-size="7.9" fill="#2a2a2a" textLength="85.90" lengthAdjust="spacingAndGlyphs">Environment Event (ASE)</text>
<text x="460.70" y="570.70" font-size="12" font-weight="bold" fill="#111" textLength="117.00" lengthAdjust="spacingAndGlyphs">Company Confidential</text>
<text transform="translate(12.8 552) rotate(-90)" font-size="11" font-weight="bold" fill="#111" textLength="170" lengthAdjust="spacingAndGlyphs" xml:space="preserve">High  Level  Milestones / Sprints</text>
<rect x="17.2" y="435.8" width="198.30" height="128.70" fill="#fff" stroke="#9a9a9a" stroke-width="0.8"/>
<line x1="34.5" y1="454.20" x2="202.4" y2="454.20" stroke="#444" stroke-width="0.4"/>
<text x="29.6" y="456.15" font-size="5.8" text-anchor="end" fill="#222">25.0</text>
<line x1="34.5" y1="471.60" x2="202.4" y2="471.60" stroke="#444" stroke-width="0.4"/>
<text x="29.6" y="473.55" font-size="5.8" text-anchor="end" fill="#222">20.0</text>
<line x1="34.5" y1="489.00" x2="202.4" y2="489.00" stroke="#444" stroke-width="0.4"/>
<text x="29.6" y="490.95" font-size="5.8" text-anchor="end" fill="#222">15.0</text>
<line x1="34.5" y1="506.40" x2="202.4" y2="506.40" stroke="#444" stroke-width="0.4"/>
<text x="29.6" y="508.35" font-size="5.8" text-anchor="end" fill="#222">10.0</text>
<line x1="34.5" y1="523.80" x2="202.4" y2="523.80" stroke="#444" stroke-width="0.4"/>
<text x="29.6" y="525.75" font-size="5.8" text-anchor="end" fill="#222">5.0</text>
<line x1="34.5" y1="541.20" x2="202.4" y2="541.20" stroke="#444" stroke-width="0.4"/>
<text x="29.6" y="543.15" font-size="5.8" text-anchor="end" fill="#222">0.0</text>
<path d="M36.40 541.20L36.40 519.97L43.04 495.26L49.68 479.95L56.32 479.95L62.96 479.60L69.60 472.99L76.24 485.87L82.88 486.04L89.52 488.65L96.16 489.00L102.80 488.13L109.44 512.32L116.08 522.41L122.72 519.62L129.36 518.93L136.00 522.41L142.64 526.58L149.28 525.54L155.92 526.58L162.56 529.02L169.20 529.72L175.84 529.72L182.48 529.37L189.12 541.20L195.76 541.20L202.40 541.20Z" fill="#9999ff" stroke="#111" stroke-width="0.8" stroke-linejoin="round"/>
<line x1="36.4" y1="454.2" x2="36.4" y2="541.2" stroke="#333" stroke-width="0.6"/>
<rect x="150.4" y="457.5" width="49.8" height="15.5" fill="#fff"/>
<rect x="160.8" y="462.8" width="1.2" height="1" fill="#222"/><line x1="162.5" y1="463.3" x2="169.7" y2="463.3" stroke="#c4c4c4" stroke-width="0.9" stroke-dasharray="1.1 0.4"/>
<rect x="180.2" y="462.8" width="1.2" height="1" fill="#222"/><line x1="181.9" y1="463.3" x2="190.7" y2="463.3" stroke="#c4c4c4" stroke-width="0.9" stroke-dasharray="1.1 0.4"/>
<text x="101.70" y="447.90" font-size="7.0" font-weight="bold" fill="#111" textLength="27.30" lengthAdjust="spacingAndGlyphs" text-decoration="underline">FTE Mix</text>
<text transform="translate(37.70 543.9) rotate(-90)" font-size="3.8" fill="#222" text-anchor="end">Mar-20</text>
<text transform="translate(44.34 543.9) rotate(-90)" font-size="3.8" fill="#222" text-anchor="end">Apr-20</text>
<text transform="translate(50.98 543.9) rotate(-90)" font-size="3.8" fill="#222" text-anchor="end">May-20</text>
<text transform="translate(57.62 543.9) rotate(-90)" font-size="3.8" fill="#222" text-anchor="end">Jun-20</text>
<text transform="translate(64.26 543.9) rotate(-90)" font-size="3.8" fill="#222" text-anchor="end">Jul-20</text>
<text transform="translate(70.90 543.9) rotate(-90)" font-size="3.8" fill="#222" text-anchor="end">Aug-20</text>
<text transform="translate(77.54 543.9) rotate(-90)" font-size="3.8" fill="#222" text-anchor="end">Sep-20</text>
<text transform="translate(84.18 543.9) rotate(-90)" font-size="3.8" fill="#222" text-anchor="end">Oct-20</text>
<text transform="translate(90.82 543.9) rotate(-90)" font-size="3.8" fill="#222" text-anchor="end">Nov-20</text>
<text transform="translate(97.46 543.9) rotate(-90)" font-size="3.8" fill="#222" text-anchor="end">Dec-20</text>
<text transform="translate(104.10 543.9) rotate(-90)" font-size="3.8" fill="#222" text-anchor="end">Jan-21</text>
<text transform="translate(110.74 543.9) rotate(-90)" font-size="3.8" fill="#222" text-anchor="end">Feb-21</text>
<text transform="translate(117.38 543.9) rotate(-90)" font-size="3.8" fill="#222" text-anchor="end">Mar-21</text>
<text transform="translate(124.02 543.9) rotate(-90)" font-size="3.8" fill="#222" text-anchor="end">Apr-21</text>
<text transform="translate(130.66 543.9) rotate(-90)" font-size="3.8" fill="#222" text-anchor="end">May-21</text>
<text transform="translate(137.30 543.9) rotate(-90)" font-size="3.8" fill="#222" text-anchor="end">Jun-21</text>
<text transform="translate(143.94 543.9) rotate(-90)" font-size="3.8" fill="#222" text-anchor="end">Jul-21</text>
<text transform="translate(150.58 543.9) rotate(-90)" font-size="3.8" fill="#222" text-anchor="end">Aug-21</text>
<text transform="translate(157.22 543.9) rotate(-90)" font-size="3.8" fill="#222" text-anchor="end">Sep-21</text>
<text transform="translate(163.86 543.9) rotate(-90)" font-size="3.8" fill="#222" text-anchor="end">Oct-21</text>
<text transform="translate(170.50 543.9) rotate(-90)" font-size="3.8" fill="#222" text-anchor="end">Nov-21</text>
<text transform="translate(177.14 543.9) rotate(-90)" font-size="3.8" fill="#222" text-anchor="end">Dec-21</text>
<text transform="translate(183.78 543.9) rotate(-90)" font-size="3.8" fill="#222" text-anchor="end">Jan-22</text>
<text transform="translate(190.42 543.9) rotate(-90)" font-size="3.8" fill="#222" text-anchor="end">Feb-22</text>
<text transform="translate(197.06 543.9) rotate(-90)" font-size="3.8" fill="#222" text-anchor="end">Mar-22</text>
<text transform="translate(203.70 543.9) rotate(-90)" font-size="3.8" fill="#222" text-anchor="end">Apr-22</text>
<circle cx="7.5" cy="568.25" r="5.3" fill="rgba(255,255,255,0.2)" stroke="#dcdfe5" stroke-width="0.7"/>
<circle cx="22.5" cy="568.25" r="5.3" fill="rgba(255,255,255,0.2)" stroke="#dcdfe5" stroke-width="0.7"/>
<circle cx="37.5" cy="568.25" r="5.3" fill="rgba(255,255,255,0.2)" stroke="#dcdfe5" stroke-width="0.7"/>
<circle cx="53" cy="568.25" r="5.3" fill="rgba(255,255,255,0.2)" stroke="#dcdfe5" stroke-width="0.7"/>
<circle cx="68" cy="568.25" r="5.3" fill="rgba(255,255,255,0.2)" stroke="#dcdfe5" stroke-width="0.7"/>
<circle cx="83.5" cy="568.25" r="5.3" fill="rgba(255,255,255,0.2)" stroke="#dcdfe5" stroke-width="0.7"/>
<circle cx="98.75" cy="568.25" r="5.3" fill="rgba(255,255,255,0.2)" stroke="#dcdfe5" stroke-width="0.7"/>
<g fill="none" stroke="#dcdfe5" stroke-width="0.7">
<path d="M9 565.6L5.6 568.25L9 570.9Z"/>
<path d="M21.2 565.6L24.6 568.25L21.2 570.9Z"/>
<path d="M35.2 570.6L40 565.8"/>
<rect x="50.8" y="566.6" width="4.4" height="4.2"/><path d="M52 566.6V565.4H54V566.6"/>
<circle cx="67.2" cy="567.4" r="1.9"/><path d="M68.6 568.9L70.6 571"/>
<rect x="80.9" y="566.3" width="5.2" height="3.9"/>
<path d="M96.2 568.25H101.3"/>
</g>
</svg>
</body></html>
